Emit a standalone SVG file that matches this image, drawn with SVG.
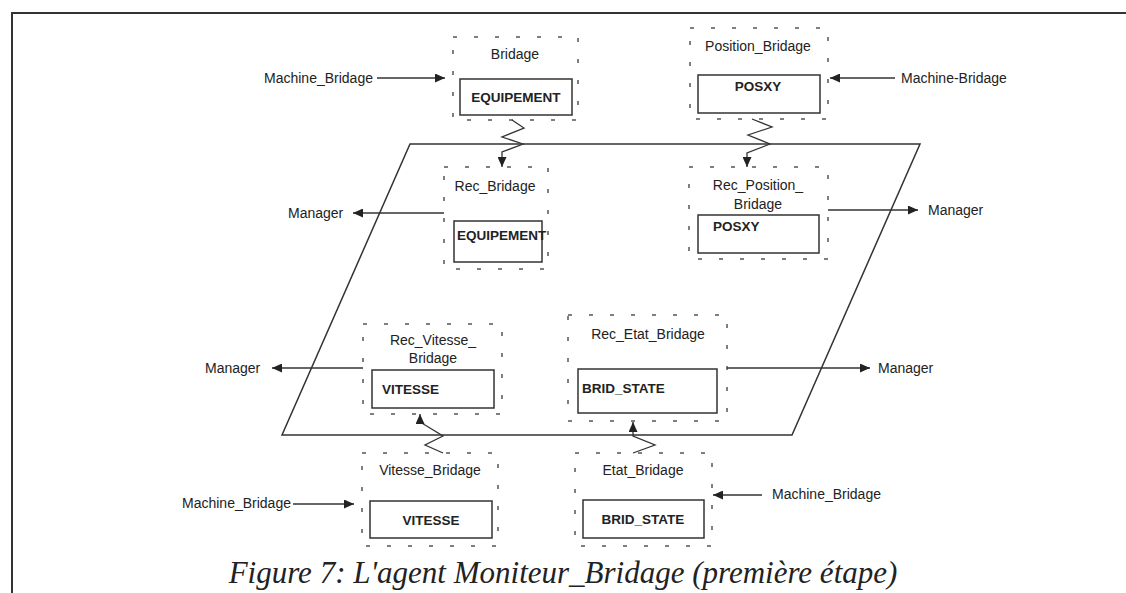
<svg xmlns="http://www.w3.org/2000/svg" width="1126" height="593" viewBox="0 0 1126 593">
  <defs>
    <marker id="head" markerUnits="userSpaceOnUse" markerWidth="11" markerHeight="9" refX="10" refY="4.5" orient="auto">
      <path d="M0,0 L10,4.5 L0,9 z" fill="#222"/>
    </marker>
    <style>
      .frame { fill: none; stroke: #333; stroke-width: 2; }
      .plane { fill: none; stroke: #333; stroke-width: 1.5; }
      .scope { fill: none; stroke: #555; stroke-width: 1.5; stroke-dasharray: 4 17; }
      .slot { fill: #fff; stroke: #333; stroke-width: 1.5; }
      .wire { fill: none; stroke: #333; stroke-width: 1.3; marker-end: url(#head); }
      .lbl { font-family: "Liberation Sans", Arial, sans-serif; font-size: 14px; fill: #222; }
      .mid { text-anchor: middle; }
      .bold { font-weight: bold; font-size: 13.5px; }
      .caption { font-family: "Liberation Serif", "Times New Roman", serif; font-style: italic; font-size: 31px; fill: #222; text-anchor: middle; }
    </style>
  </defs>

  <rect width="1126" height="593" fill="#fff"/>

  <!-- page frame (open at the bottom and right) -->
  <path class="frame" d="M12,593 V13 H1126"/>

  <!-- agent boundary -->
  <polygon id="agent" class="plane" points="410,144 920,144 792,435 282,435"/>

  <g id="bridage">
    <rect class="scope" x="453" y="37" width="125" height="83"/>
    <rect class="slot" x="460" y="79" width="112" height="36"/>
    <text class="lbl mid" x="515" y="59">Bridage</text>
    <text class="lbl mid bold" x="516" y="102">EQUIPEMENT</text>
  </g>

  <g id="position_bridage">
    <rect class="scope" x="690" y="28" width="138" height="91"/>
    <rect class="slot" x="698" y="75" width="122" height="38"/>
    <text class="lbl mid" x="758" y="51">Position_Bridage</text>
    <text class="lbl mid bold" x="758" y="91">POSXY</text>
  </g>

  <g id="rec_bridage">
    <rect class="scope" x="444" y="167" width="104" height="102"/>
    <rect class="slot" x="454" y="221" width="88" height="41"/>
    <text class="lbl mid" x="495" y="191">Rec_Bridage</text>
    <text class="lbl bold" x="457" y="240">EQUIPEMENT</text>
  </g>

  <g id="rec_position_bridage">
    <rect class="scope" x="689" y="167" width="139" height="92"/>
    <rect class="slot" x="698" y="215" width="121" height="38"/>
    <text class="lbl mid" x="758" y="190">Rec_Position_</text>
    <text class="lbl mid" x="758" y="209">Bridage</text>
    <text class="lbl bold" x="713" y="231">POSXY</text>
  </g>

  <g id="rec_vitesse_bridage">
    <rect class="scope" x="363" y="324" width="139" height="90"/>
    <rect class="slot" x="372" y="370" width="122" height="38"/>
    <text class="lbl mid" x="433" y="345">Rec_Vitesse_</text>
    <text class="lbl mid" x="433" y="363">Bridage</text>
    <text class="lbl bold" x="382" y="394">VITESSE</text>
  </g>

  <g id="rec_etat_bridage">
    <rect class="scope" x="568" y="315" width="159" height="106"/>
    <rect class="slot" x="578" y="369" width="139" height="44"/>
    <text class="lbl mid" x="648" y="339">Rec_Etat_Bridage</text>
    <text class="lbl bold" x="582" y="393">BRID_STATE</text>
  </g>

  <g id="vitesse_bridage">
    <rect class="scope" x="362" y="453" width="136" height="93"/>
    <rect class="slot" x="370" y="501" width="122" height="37"/>
    <text class="lbl mid" x="430" y="475">Vitesse_Bridage</text>
    <text class="lbl mid bold" x="431" y="525">VITESSE</text>
  </g>

  <g id="etat_bridage">
    <rect class="scope" x="575" y="453" width="137" height="93"/>
    <rect class="slot" x="583" y="500" width="121" height="38"/>
    <text class="lbl mid" x="643" y="475">Etat_Bridage</text>
    <text class="lbl mid bold" x="643" y="524">BRID_STATE</text>
  </g>

  <!-- external endpoints -->
  <g id="endpoints">
    <text class="lbl" x="264" y="83">Machine_Bridage</text>
    <text class="lbl" x="901" y="83">Machine-Bridage</text>
    <text class="lbl" x="288" y="218">Manager</text>
    <text class="lbl" x="928" y="215">Manager</text>
    <text class="lbl" x="205" y="373">Manager</text>
    <text class="lbl" x="878" y="373">Manager</text>
    <text class="lbl" x="182" y="508">Machine_Bridage</text>
    <text class="lbl" x="772" y="499">Machine_Bridage</text>
  </g>

  <g id="connectors">
    <!-- inputs from the machine -->
    <line class="wire" x1="377" y1="78" x2="445" y2="78"/>
    <line class="wire" x1="895" y1="78" x2="830" y2="78"/>
    <line class="wire" x1="293" y1="504" x2="354" y2="504"/>
    <line class="wire" x1="762" y1="495" x2="713" y2="495"/>
    <!-- outputs to the manager -->
    <line class="wire" x1="444" y1="213" x2="353" y2="213"/>
    <line class="wire" x1="828" y1="210" x2="918" y2="210"/>
    <line class="wire" x1="363" y1="368" x2="272" y2="368"/>
    <line class="wire" x1="727" y1="368" x2="870" y2="368"/>
    <!-- zigzag transfers across the agent boundary -->
    <path class="wire" d="M512,120 L524,128 L502,137 L523,144 L502,152 L502,167"/>
    <path class="wire" d="M752,119 L772,127 L748,135 L770,144 L747,153 L747,167"/>
    <path class="wire" d="M443,453 L425,445 L443,436 L420,422 L420,414"/>
    <path class="wire" d="M633,453 L655,445 L633,436 L633,422"/>
  </g>

  <text class="caption" x="563" y="583">Figure 7: L'agent Moniteur_Bridage (première étape)</text>
</svg>
